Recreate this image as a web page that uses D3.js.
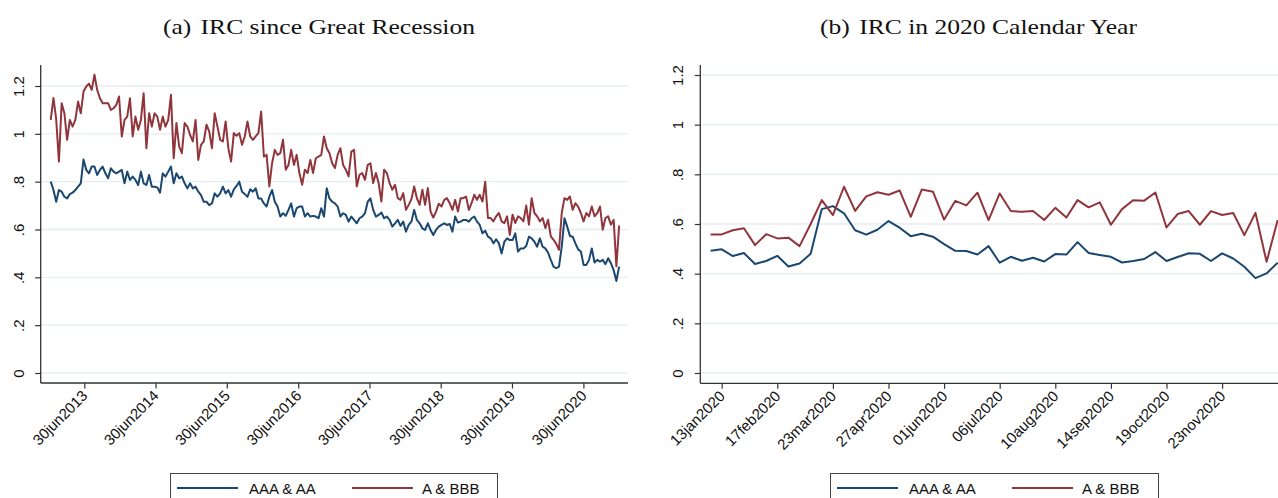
<!DOCTYPE html>
<html><head><meta charset="utf-8">
<script src="https://cdn.jsdelivr.net/npm/d3@7"></script>
<style>
html,body{margin:0;padding:0;background:#fff;}
svg{display:block;}
</style></head><body>
<svg id="c" width="1278" height="498"></svg>
<script>
// ---------- DATA ----------
const seriesNames = ["AAA & AA", "A & BBB"];
const panelLabels = ["(a)", "(b)"];
const panelTitles = ["IRC since Great Recession", "IRC in 2020 Calendar Year"];

// Panel (a): biweekly observations from 09jan2013
const leftStart = "2013-01-09";
const leftStepDays = 14;
const leftBlue = [
0.800,0.765,0.716,0.765,0.758,0.737,0.730,0.748,0.754,0.765,
0.779,0.793,0.893,0.849,0.835,0.863,0.863,0.828,0.849,0.863,
0.835,0.814,0.856,0.842,0.835,0.842,0.849,0.793,0.842,0.807,
0.821,0.807,0.786,0.842,0.793,0.786,0.828,0.779,0.779,0.776,
0.754,0.835,0.821,0.842,0.863,0.793,0.835,0.814,0.821,0.793,
0.772,0.793,0.772,0.779,0.758,0.744,0.716,0.716,0.702,0.709,
0.751,0.737,0.751,0.779,0.751,0.765,0.737,0.768,0.782,0.800,
0.758,0.748,0.737,0.768,0.758,0.772,0.730,0.730,0.709,0.696,
0.737,0.765,0.716,0.696,0.654,0.668,0.657,0.682,0.709,0.654,
0.689,0.696,0.696,0.654,0.668,0.654,0.657,0.654,0.647,0.689,
0.654,0.772,0.730,0.716,0.709,0.696,0.654,0.668,0.661,0.633,
0.654,0.640,0.626,0.647,0.654,0.668,0.716,0.730,0.682,0.654,
0.661,0.671,0.647,0.654,0.640,0.612,0.626,0.640,0.615,0.633,
0.591,0.619,0.633,0.682,0.640,0.626,0.605,0.598,0.626,0.598,
0.577,0.598,0.612,0.619,0.626,0.619,0.623,0.591,0.654,0.629,
0.633,0.640,0.640,0.633,0.647,0.654,0.633,0.619,0.584,0.595,
0.570,0.563,0.542,0.559,0.542,0.500,0.549,0.563,0.556,0.556,
0.584,0.508,0.521,0.521,0.531,0.570,0.563,0.549,0.528,0.563,
0.528,0.521,0.503,0.473,0.445,0.438,0.445,0.528,0.647,0.612,
0.573,0.570,0.542,0.517,0.508,0.452,0.452,0.473,0.521,0.462,
0.473,0.466,0.473,0.455,0.480,0.459,0.430,0.385,0.445];
const leftRed = [
1.058,1.150,1.060,0.884,1.128,1.086,0.975,1.058,1.030,1.058,
1.135,1.086,1.177,1.198,1.210,1.184,1.247,1.184,1.149,1.128,
1.128,1.128,1.100,1.107,1.121,1.156,0.989,1.058,1.072,1.149,
0.989,1.072,1.017,1.058,1.170,0.940,1.086,1.030,1.086,1.072,
1.017,1.072,1.030,1.058,1.163,0.898,1.045,0.947,0.919,1.045,
1.030,0.996,0.968,1.058,0.891,0.954,0.968,1.038,1.010,0.940,
1.086,1.031,0.975,0.968,1.052,0.940,0.884,1.003,0.992,1.003,
0.954,0.989,1.052,0.989,0.975,0.989,1.003,1.093,0.905,0.912,
0.780,0.877,0.933,0.912,0.919,0.975,0.850,0.870,0.933,0.870,
0.912,0.836,0.787,0.850,0.836,0.891,0.836,0.898,0.905,0.912,
0.989,0.940,0.919,0.877,0.857,0.912,0.940,0.870,0.850,0.822,
0.926,0.933,0.780,0.829,0.836,0.808,0.870,0.877,0.794,0.836,
0.794,0.717,0.850,0.836,0.794,0.766,0.787,0.731,0.724,0.752,
0.682,0.703,0.727,0.780,0.731,0.703,0.766,0.703,0.773,0.675,
0.650,0.675,0.708,0.696,0.724,0.731,0.710,0.682,0.724,0.675,
0.731,0.731,0.738,0.682,0.710,0.745,0.724,0.745,0.717,0.800,
0.648,0.648,0.634,0.655,0.669,0.634,0.627,0.655,0.578,0.662,
0.627,0.655,0.648,0.634,0.700,0.620,0.731,0.669,0.655,0.634,
0.648,0.606,0.641,0.571,0.557,0.540,0.515,0.669,0.731,0.724,
0.738,0.682,0.710,0.696,0.669,0.634,0.669,0.655,0.696,0.655,
0.669,0.696,0.599,0.648,0.655,0.620,0.640,0.446,0.616];
const leftTickDates = ["2013-06-30","2014-06-30","2015-06-30","2016-06-30","2017-06-30","2018-06-30","2019-06-30","2020-06-30"];
const leftTickLabels = ["30jun2013","30jun2014","30jun2015","30jun2016","30jun2017","30jun2018","30jun2019","30jun2020"];

// Panel (b): weekly observations from 06jan2020
const rightStart = "2020-01-06";
const rightStepDays = 7;
const rightBlue = [
0.492,0.498,0.471,0.483,0.439,0.451,0.472,0.429,0.441,0.480,
0.660,0.672,0.643,0.575,0.557,0.577,0.612,0.585,0.551,0.561,
0.549,0.519,0.492,0.491,0.477,0.511,0.444,0.468,0.452,0.464,
0.449,0.479,0.477,0.527,0.483,0.475,0.468,0.445,0.451,0.459,
0.487,0.451,0.467,0.482,0.480,0.451,0.482,0.461,0.428,0.382,
0.401,0.444];
const rightRed = [
0.558,0.558,0.575,0.583,0.515,0.559,0.542,0.545,0.511,0.600,
0.696,0.636,0.750,0.653,0.711,0.728,0.718,0.735,0.629,0.739,
0.730,0.618,0.693,0.675,0.726,0.616,0.723,0.652,0.649,0.652,
0.616,0.665,0.626,0.696,0.667,0.687,0.597,0.660,0.696,0.694,
0.727,0.586,0.640,0.652,0.597,0.652,0.636,0.644,0.555,0.645,
0.448,0.616];
const rightTickDates = ["2020-01-13","2020-02-17","2020-03-23","2020-04-27","2020-06-01","2020-07-06","2020-08-10","2020-09-14","2020-10-19","2020-11-23"];
const rightTickLabels = ["13jan2020","17feb2020","23mar2020","27apr2020","01jun2020","06jul2020","10aug2020","14sep2020","19oct2020","23nov2020"];

const yTicks = [0, 0.2, 0.4, 0.6, 0.8, 1, 1.2];
const yTickLabels = ["0", ".2", ".4", ".6", ".8", "1", "1.2"];

// ---------- STYLE / LAYOUT ----------
const colors = ["#1a476f", "#90353b"];
const sansFont = "'Liberation Sans', Arial, Helvetica, sans-serif";
const serifFont = "'Liberation Serif', 'Times New Roman', serif";

const panels = [
  { left: 40.7, right: 628, top: 65, bottom: 383, y0: 373, y12: 86,
    anchorDates: [leftTickDates[0], leftTickDates[7]], anchorPx: [84.3, 583.4],
    start: leftStart, step: leftStepDays, series: [leftBlue, leftRed],
    ticks: leftTickDates, tickLabels: leftTickLabels,
    titleX: 319, titleW: 312, legend: [170, 497] },
  { left: 700.3, right: 1300, top: 65, bottom: 383.3, y0: 373, y12: 75,
    anchorDates: [rightTickDates[0], rightTickDates[9]], anchorPx: [721.7, 1222.1],
    start: rightStart, step: rightStepDays, series: [rightBlue, rightRed],
    ticks: rightTickDates, tickLabels: rightTickLabels,
    titleX: 978.5, titleW: 317, legend: [830, 1158] }
];

const svg = d3.select("#c");
const parse = s => new Date(s + "T00:00:00Z");

panels.forEach((p, pi) => {
  const g = svg.append("g");
  const x = d3.scaleUtc().domain(p.anchorDates.map(parse)).range(p.anchorPx);
  const y = d3.scaleLinear().domain([0, 1.2]).range([p.y0, p.y12]);

  // title
  const t = g.append("text")
    .attr("x", p.titleX).attr("y", 34)
    .attr("text-anchor", "middle")
    .attr("font-family", serifFont).attr("font-size", 22)
    .attr("fill", "#111");
  t.append("tspan").text(panelLabels[pi]);
  t.append("tspan").attr("dx", 8).text(panelTitles[pi]);
  t.attr("textLength", p.titleW).attr("lengthAdjust", "spacingAndGlyphs");

  // gridlines
  g.selectAll("line.grid").data(yTicks).join("line")
    .attr("class", "grid")
    .attr("x1", p.left).attr("x2", p.right)
    .attr("y1", d => y(d)).attr("y2", d => y(d))
    .attr("stroke", "#e4edf0").attr("stroke-width", 1.4);

  // series
  const startDate = parse(p.start);
  const line = d3.line()
    .x((d, i) => x(d3.utcDay.offset(startDate, p.step * i)))
    .y(d => y(d));
  p.series.forEach((vals, si) => {
    g.append("path").datum(vals)
      .attr("d", line)
      .attr("fill", "none")
      .attr("stroke", colors[si])
      .attr("stroke-width", 2)
      .attr("stroke-linejoin", "round");
  });

  // y axis
  const ya = g.append("g").attr("transform", `translate(${p.left},0)`)
    .call(d3.axisLeft(y).tickValues(yTicks).tickFormat((d, i) => yTickLabels[i]).tickSize(5.5));
  ya.select(".domain").remove();
  ya.selectAll(".tick line").attr("stroke", "#333").attr("stroke-width", 1.2);
  ya.selectAll(".tick text")
    .attr("x", null).attr("dy", null)
    .attr("transform", "translate(-17,0) rotate(-90)")
    .attr("text-anchor", "middle")
    .attr("font-family", sansFont).attr("font-size", 15).attr("fill", "#111");
  g.append("line").attr("x1", p.left).attr("x2", p.left)
    .attr("y1", p.top).attr("y2", p.bottom)
    .attr("stroke", "#333").attr("stroke-width", 1.3);

  // x axis
  const xa = g.append("g").attr("transform", `translate(0,${p.bottom})`)
    .call(d3.axisBottom(x).tickValues(p.ticks.map(parse)).tickFormat((d, i) => p.tickLabels[i]).tickSize(5.5));
  xa.select(".domain").remove();
  xa.selectAll(".tick line").attr("stroke", "#333").attr("stroke-width", 1.2);
  xa.selectAll(".tick text")
    .attr("y", null).attr("dy", "0.35em")
    .attr("transform", "translate(0,10) rotate(-45)")
    .attr("text-anchor", "end")
    .attr("font-family", sansFont).attr("font-size", 15).attr("fill", "#111");
  g.append("line").attr("x1", p.left).attr("x2", p.right)
    .attr("y1", p.bottom).attr("y2", p.bottom)
    .attr("stroke", "#333").attr("stroke-width", 1.3);

  // legend
  const [lx0, lx1] = p.legend;
  g.append("rect").attr("x", lx0 + 0.5).attr("y", 473.5)
    .attr("width", lx1 - lx0).attr("height", 40)
    .attr("fill", "#fff").attr("stroke", "#444").attr("stroke-width", 1);
  const items = [{ x: lx0 + 7, tx: lx0 + 79 }, { x: lx0 + 182, tx: lx0 + 252 }];
  items.forEach((it, si) => {
    g.append("line").attr("x1", it.x).attr("x2", it.x + 61)
      .attr("y1", 488).attr("y2", 488)
      .attr("stroke", colors[si]).attr("stroke-width", 2);
    g.append("text").attr("x", it.tx).attr("y", 493.5)
      .attr("font-family", sansFont).attr("font-size", 15).attr("fill", "#111")
      .text(seriesNames[si]);
  });
});
</script>
</body></html>
